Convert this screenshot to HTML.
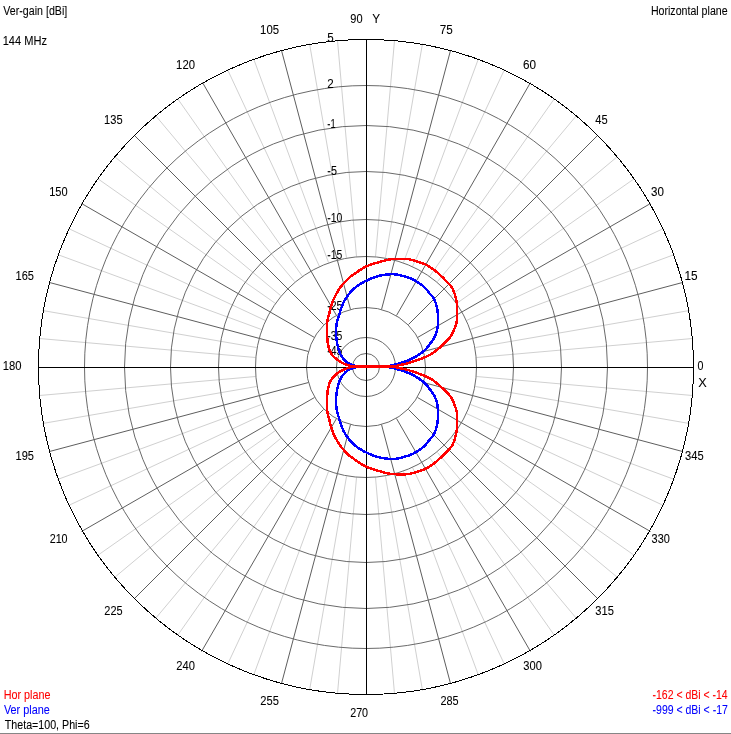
<!DOCTYPE html>
<html><head><meta charset="utf-8"><title>Horizontal plane</title>
<style>
html,body{margin:0;padding:0;background:#fff;overflow:hidden}
svg{display:block}
text{font-family:"Liberation Sans",sans-serif;font-size:12.5px;stroke-width:0.08px}
</style></head><body>
<svg width="731" height="734" viewBox="0 0 731 734">
<rect x="0" y="0" width="731" height="734" fill="#fff"/>
<rect x="0" y="733" width="731" height="1" fill="#868686"/>
<g fill="none" stroke-width="1">
<path stroke="#d0d0d0" d="M476.5 357.5L692.5 338.5M475.5 347.5L689.5 310.5M470.5 329.5L674.5 254.5M466.5 320.5L663.5 228.5M456.5 303.5L634.5 178.5M451.5 295.5L617.5 156.5M437.5 281.5L576.5 115.5M429.5 276.5L554.5 98.5M412.5 266.5L504.5 69.5M403.5 262.5L478.5 58.5M385.5 257.5L422.5 43.5M375.5 256.5L394.5 40.5M356.5 256.5L337.5 40.5M346.5 257.5L309.5 43.5M328.5 262.5L253.5 58.5M319.5 266.5L227.5 69.5M302.5 276.5L177.5 98.5M294.5 281.5L155.5 115.5M280.5 295.5L114.5 156.5M275.5 303.5L97.5 178.5M265.5 320.5L68.5 228.5M261.5 329.5L57.5 254.5M256.5 347.5L42.5 310.5M255.5 357.5L39.5 338.5M255.5 376.5L39.5 395.5M256.5 386.5L42.5 423.5M261.5 404.5L57.5 479.5M265.5 413.5L68.5 505.5M275.5 430.5L97.5 555.5M280.5 438.5L114.5 577.5M294.5 452.5L155.5 618.5M302.5 457.5L177.5 635.5M319.5 467.5L227.5 664.5M328.5 471.5L253.5 675.5M346.5 476.5L309.5 690.5M356.5 477.5L337.5 693.5M375.5 477.5L394.5 693.5M385.5 476.5L422.5 690.5M403.5 471.5L478.5 675.5M412.5 467.5L504.5 664.5M429.5 457.5L554.5 635.5M437.5 452.5L576.5 618.5M451.5 438.5L617.5 577.5M456.5 430.5L634.5 555.5M466.5 413.5L663.5 505.5M470.5 404.5L674.5 479.5M475.5 386.5L689.5 423.5M476.5 376.5L692.5 395.5"/>
<path stroke="#5e5e5e" d="M423.5 351.5L682.5 282.5M417.5 337.5L650.5 203.5M408.5 324.5L597.5 135.5M396.5 315.5L530.5 82.5M381.5 309.5L450.5 50.5M350.5 309.5L281.5 50.5M336.5 315.5L202.5 82.5M323.5 324.5L134.5 135.5M314.5 337.5L81.5 203.5M308.5 351.5L49.5 282.5M308.5 382.5L49.5 451.5M314.5 397.5L81.5 531.5M323.5 409.5L134.5 598.5M336.5 418.5L201.5 651.5M350.5 424.5L281.5 683.5M381.5 424.5L450.5 683.5M396.5 418.5L530.5 651.5M408.5 409.5L597.5 598.5M417.5 397.5L650.5 531.5M423.5 382.5L682.5 451.5"/>
<g stroke="#6a6a6a">
<circle cx="366.0" cy="367.0" r="281.5"/>
<circle cx="366.0" cy="367.0" r="241.5"/>
<circle cx="366.0" cy="367.0" r="195.5"/>
<circle cx="366.0" cy="367.0" r="147.5"/>
<circle cx="366.0" cy="367.0" r="110.5"/>
<circle cx="366.0" cy="367.0" r="59.5"/>
<circle cx="366.0" cy="367.0" r="29.5"/>
<circle cx="366.0" cy="367.0" r="13.5"/>
</g>
<circle cx="366.0" cy="367.0" r="327.5" stroke="#000" shape-rendering="crispEdges"/>
<path stroke="#000" shape-rendering="crispEdges" d="M38 367.5H694M366.5 39V695"/>
</g>
<g>
<text x="327.35" y="42.00" fill="#000" stroke="#000" textLength="6.46" lengthAdjust="spacingAndGlyphs">5</text>
<text x="327.35" y="88.00" fill="#000" stroke="#000" textLength="6.45" lengthAdjust="spacingAndGlyphs">2</text>
<text x="327.35" y="128.00" fill="#000" stroke="#000" textLength="8.30" lengthAdjust="spacingAndGlyphs">-1</text>
<text x="327.35" y="175.00" fill="#000" stroke="#000" textLength="9.59" lengthAdjust="spacingAndGlyphs">-5</text>
<text x="327.35" y="222.00" fill="#000" stroke="#000" textLength="15.09" lengthAdjust="spacingAndGlyphs">-10</text>
<text x="327.35" y="259.00" fill="#000" stroke="#000" textLength="15.09" lengthAdjust="spacingAndGlyphs">-15</text>
<text x="327.35" y="310.00" fill="#000" stroke="#000" textLength="15.09" lengthAdjust="spacingAndGlyphs">-25</text>
<text x="327.35" y="340.00" fill="#000" stroke="#000" textLength="15.09" lengthAdjust="spacingAndGlyphs">-35</text>
<text x="327.35" y="355.00" fill="#000" stroke="#000" textLength="15.09" lengthAdjust="spacingAndGlyphs">-45</text>
</g>
<g fill="none" stroke-width="2.5" stroke-linejoin="round" shape-rendering="crispEdges">
<path stroke="#0000ff" d="M366.0 367.0 L365.5 367.0 L364.9 367.0 L364.1 367.0 L363.2 367.0 L362.4 366.9 L361.6 366.9 L360.9 366.9 L360.2 366.8 L359.5 366.8 L358.7 366.7 L358.0 366.6 L357.2 366.4 L356.3 366.2 L355.4 365.9 L354.4 365.7 L353.5 365.3 L352.6 365.0 L351.7 364.7 L350.9 364.4 L350.2 364.1 L349.5 363.8 L348.8 363.4 L348.1 363.0 L347.4 362.5 L346.7 361.9 L345.9 361.3 L345.1 360.6 L344.4 359.8 L343.7 359.0 L343.0 358.2 L342.4 357.4 L341.8 356.5 L341.2 355.7 L340.7 354.7 L340.2 353.8 L339.7 352.7 L339.3 351.6 L338.9 350.3 L338.5 349.0 L338.1 347.7 L337.8 346.4 L337.5 345.0 L337.2 343.6 L337.0 342.2 L336.7 340.7 L336.5 339.2 L336.3 337.8 L336.2 336.3 L336.1 334.8 L336.1 333.3 L336.0 331.8 L336.1 330.3 L336.1 328.9 L336.2 327.5 L336.3 326.2 L336.5 324.8 L336.7 323.5 L337.0 322.3 L337.2 321.1 L337.5 320.0 L337.8 319.0 L338.0 318.1 L338.3 317.2 L338.6 316.4 L338.9 315.5 L339.2 314.6 L339.5 313.6 L339.9 312.4 L340.2 311.3 L340.6 310.2 L340.9 309.1 L341.3 308.0 L341.7 307.0 L342.0 306.1 L342.4 305.1 L342.7 304.2 L343.1 303.4 L343.5 302.5 L343.9 301.6 L344.4 300.8 L344.8 300.0 L345.3 299.2 L345.8 298.4 L346.3 297.6 L346.9 296.8 L347.5 296.0 L348.1 295.2 L348.7 294.3 L349.4 293.5 L350.1 292.7 L350.8 291.9 L351.6 291.0 L352.4 290.2 L353.3 289.4 L354.1 288.6 L355.0 287.8 L355.9 287.1 L356.8 286.4 L357.7 285.8 L358.6 285.1 L359.5 284.5 L360.5 283.9 L361.4 283.3 L362.3 282.8 L363.3 282.2 L364.2 281.7 L365.3 281.2 L366.5 280.6 L367.9 280.0 L369.4 279.3 L371.0 278.6 L372.7 277.9 L374.3 277.3 L375.8 276.8 L377.2 276.4 L378.5 276.0 L379.8 275.7 L381.0 275.5 L382.2 275.2 L383.5 275.0 L384.8 274.8 L386.1 274.6 L387.4 274.5 L388.7 274.3 L390.0 274.3 L391.1 274.2 L392.1 274.2 L393.0 274.2 L393.9 274.2 L394.7 274.3 L395.6 274.4 L396.6 274.6 L397.7 274.8 L399.0 275.0 L400.3 275.3 L401.6 275.6 L402.9 275.9 L404.2 276.3 L405.5 276.7 L406.8 277.1 L408.1 277.5 L409.3 277.9 L410.6 278.4 L411.9 279.0 L413.2 279.6 L414.5 280.3 L415.8 281.1 L417.1 281.9 L418.4 282.6 L419.5 283.4 L420.6 284.1 L421.5 284.8 L422.4 285.5 L423.3 286.3 L424.2 287.0 L425.0 287.8 L425.8 288.6 L426.5 289.5 L427.3 290.4 L428.0 291.4 L428.7 292.3 L429.4 293.2 L430.2 294.1 L430.9 295.0 L431.7 295.8 L432.5 296.7 L433.2 297.7 L433.8 298.7 L434.4 299.8 L434.9 300.9 L435.3 302.1 L435.8 303.3 L436.1 304.6 L436.5 305.8 L436.8 307.0 L437.1 308.3 L437.3 309.6 L437.6 310.9 L437.7 312.2 L437.9 313.5 L438.0 314.8 L438.1 316.0 L438.2 317.2 L438.2 318.5 L438.2 319.8 L438.2 321.1 L438.1 322.5 L438.0 323.9 L437.8 325.4 L437.6 326.9 L437.4 328.3 L437.1 329.7 L436.8 331.0 L436.4 332.4 L435.9 333.7 L435.4 335.0 L434.9 336.2 L434.3 337.4 L433.7 338.6 L433.0 339.7 L432.2 340.8 L431.5 341.8 L430.7 342.9 L429.9 343.9 L429.1 344.9 L428.4 346.0 L427.6 347.0 L426.8 348.0 L425.9 349.0 L425.0 349.9 L424.0 350.8 L423.0 351.7 L421.9 352.5 L420.7 353.4 L419.6 354.1 L418.5 354.9 L417.4 355.6 L416.3 356.3 L415.2 356.9 L414.1 357.6 L413.0 358.1 L411.9 358.7 L410.8 359.2 L409.7 359.7 L408.6 360.1 L407.5 360.6 L406.4 361.0 L405.3 361.4 L404.2 361.8 L403.1 362.2 L402.1 362.6 L401.0 362.9 L399.9 363.3 L398.8 363.6 L397.7 363.9 L396.6 364.2 L395.5 364.5 L394.4 364.8 L393.3 365.1 L392.2 365.3 L391.1 365.5 L390.1 365.8 L389.1 366.0 L388.1 366.2 L387.0 366.3 L385.7 366.5 L384.3 366.6 L382.7 366.7 L381.1 366.8 L379.4 366.9 L377.7 367.0 L376.0 367.0 L374.2 367.0 L372.3 367.0 L370.4 367.0 L368.6 367.0 L367.1 367.0 L366.0 367.0 M366.0 366.2 L365.5 366.2 L364.9 366.2 L364.1 366.2 L363.2 366.2 L362.4 366.3 L361.6 366.3 L360.9 366.3 L360.2 366.4 L359.5 366.5 L358.7 366.5 L358.0 366.6 L357.2 366.8 L356.3 367.0 L355.4 367.3 L354.4 367.5 L353.5 367.9 L352.6 368.2 L351.7 368.5 L350.9 368.8 L350.2 369.1 L349.5 369.4 L348.8 369.8 L348.1 370.2 L347.4 370.7 L346.7 371.3 L345.9 371.9 L345.1 372.6 L344.4 373.4 L343.7 374.2 L343.0 375.0 L342.4 375.8 L341.8 376.7 L341.2 377.5 L340.7 378.5 L340.2 379.4 L339.7 380.5 L339.3 381.6 L338.9 382.9 L338.5 384.2 L338.1 385.5 L337.8 386.8 L337.5 388.2 L337.2 389.6 L337.0 391.0 L336.7 392.5 L336.5 394.0 L336.3 395.4 L336.2 396.9 L336.1 398.4 L336.1 399.9 L336.0 401.4 L336.1 402.9 L336.1 404.3 L336.2 405.7 L336.3 407.0 L336.5 408.4 L336.7 409.7 L337.0 410.9 L337.2 412.1 L337.5 413.2 L337.8 414.2 L338.0 415.1 L338.3 416.0 L338.6 416.8 L338.9 417.7 L339.2 418.6 L339.5 419.6 L339.9 420.8 L340.2 421.9 L340.6 423.0 L340.9 424.1 L341.3 425.2 L341.7 426.2 L342.0 427.1 L342.4 428.1 L342.7 429.0 L343.1 429.8 L343.5 430.7 L343.9 431.6 L344.4 432.4 L344.8 433.2 L345.3 434.0 L345.8 434.8 L346.3 435.6 L346.9 436.4 L347.5 437.2 L348.1 438.1 L348.7 438.9 L349.4 439.7 L350.1 440.5 L350.8 441.3 L351.6 442.2 L352.4 443.0 L353.3 443.8 L354.1 444.6 L355.0 445.4 L355.9 446.1 L356.8 446.8 L357.7 447.5 L358.6 448.1 L359.5 448.7 L360.5 449.3 L361.4 449.9 L362.3 450.4 L363.3 451.0 L364.2 451.5 L365.3 452.0 L366.5 452.6 L367.9 453.2 L369.4 453.9 L371.0 454.6 L372.7 455.3 L374.3 455.9 L375.8 456.4 L377.2 456.8 L378.5 457.2 L379.8 457.5 L381.0 457.7 L382.2 458.0 L383.5 458.2 L384.8 458.4 L386.1 458.6 L387.4 458.7 L388.7 458.9 L390.0 458.9 L391.1 459.0 L392.1 459.0 L393.0 459.0 L393.9 459.0 L394.7 458.9 L395.6 458.8 L396.6 458.6 L397.7 458.4 L399.0 458.2 L400.3 457.9 L401.6 457.6 L402.9 457.3 L404.2 456.9 L405.5 456.5 L406.8 456.1 L408.1 455.7 L409.3 455.3 L410.6 454.8 L411.9 454.2 L413.2 453.6 L414.5 452.9 L415.8 452.1 L417.1 451.3 L418.4 450.6 L419.5 449.8 L420.6 449.1 L421.5 448.4 L422.4 447.7 L423.3 446.9 L424.2 446.2 L425.0 445.4 L425.8 444.6 L426.5 443.7 L427.3 442.8 L428.0 441.8 L428.7 440.9 L429.4 440.0 L430.2 439.1 L430.9 438.2 L431.7 437.4 L432.5 436.5 L433.2 435.5 L433.8 434.5 L434.4 433.4 L434.9 432.3 L435.3 431.1 L435.8 429.9 L436.1 428.6 L436.5 427.4 L436.8 426.2 L437.1 424.9 L437.3 423.6 L437.6 422.3 L437.7 421.0 L437.9 419.7 L438.0 418.4 L438.1 417.2 L438.2 416.0 L438.2 414.7 L438.2 413.4 L438.2 412.1 L438.1 410.7 L438.0 409.3 L437.8 407.8 L437.6 406.3 L437.4 404.9 L437.1 403.5 L436.8 402.2 L436.4 400.8 L435.9 399.5 L435.4 398.2 L434.9 397.0 L434.3 395.8 L433.7 394.6 L433.0 393.5 L432.2 392.4 L431.5 391.4 L430.7 390.3 L429.9 389.3 L429.1 388.3 L428.4 387.2 L427.6 386.2 L426.8 385.2 L425.9 384.2 L425.0 383.3 L424.0 382.4 L423.0 381.5 L421.9 380.7 L420.7 379.8 L419.6 379.1 L418.5 378.3 L417.4 377.6 L416.3 376.9 L415.2 376.3 L414.1 375.6 L413.0 375.1 L411.9 374.5 L410.8 374.0 L409.7 373.5 L408.6 373.1 L407.5 372.6 L406.4 372.2 L405.3 371.8 L404.2 371.4 L403.1 371.0 L402.1 370.6 L401.0 370.3 L399.9 369.9 L398.8 369.6 L397.7 369.3 L396.6 369.0 L395.5 368.7 L394.4 368.4 L393.3 368.1 L392.2 367.9 L391.1 367.7 L390.1 367.4 L389.1 367.2 L388.1 367.0 L387.0 366.9 L385.7 366.7 L384.3 366.6 L382.7 366.5 L381.1 366.4 L379.4 366.3 L377.7 366.2 L376.0 366.2 L374.2 366.2 L372.3 366.2 L370.4 366.2 L368.6 366.2 L367.1 366.2 L366.0 366.2"/>
<path stroke="#ff0000" d="M366.0 367.0 L365.1 367.0 L363.9 367.0 L362.4 367.0 L360.8 367.0 L359.3 366.9 L358.0 366.9 L356.9 366.9 L355.8 366.8 L354.8 366.8 L353.8 366.7 L352.7 366.6 L351.7 366.4 L350.6 366.1 L349.5 365.8 L348.4 365.4 L347.3 365.0 L346.2 364.6 L345.2 364.2 L344.2 363.8 L343.3 363.4 L342.4 362.9 L341.5 362.5 L340.6 362.0 L339.7 361.4 L338.8 360.8 L337.8 360.1 L336.8 359.4 L335.9 358.6 L335.0 357.9 L334.2 357.1 L333.4 356.3 L332.7 355.6 L332.1 354.8 L331.5 353.9 L330.9 353.1 L330.4 352.1 L329.9 351.1 L329.5 349.9 L329.1 348.8 L328.8 347.6 L328.5 346.3 L328.2 345.0 L327.9 343.6 L327.7 342.2 L327.5 340.8 L327.4 339.3 L327.2 337.8 L327.1 336.3 L327.0 334.8 L326.9 333.4 L326.8 331.9 L326.8 330.4 L326.8 328.9 L326.8 327.5 L326.9 326.1 L327.0 324.6 L327.1 323.2 L327.3 321.8 L327.5 320.5 L327.7 319.3 L327.9 318.2 L328.2 317.2 L328.5 316.3 L328.7 315.4 L329.0 314.5 L329.3 313.5 L329.6 312.4 L329.8 311.4 L330.1 310.2 L330.3 309.1 L330.6 308.0 L330.9 306.9 L331.2 305.8 L331.5 304.7 L331.9 303.6 L332.3 302.5 L332.7 301.4 L333.1 300.3 L333.6 299.2 L334.1 298.1 L334.7 297.0 L335.3 295.9 L335.8 294.8 L336.4 293.8 L336.9 292.8 L337.5 291.9 L338.0 291.0 L338.5 290.1 L339.1 289.2 L339.7 288.3 L340.4 287.4 L341.1 286.4 L341.8 285.5 L342.6 284.6 L343.3 283.7 L344.1 282.8 L344.9 281.9 L345.7 281.1 L346.5 280.3 L347.3 279.5 L348.1 278.7 L349.0 277.9 L349.9 277.1 L350.9 276.4 L352.0 275.6 L353.0 274.9 L354.0 274.2 L355.0 273.5 L355.9 272.8 L356.9 272.2 L357.8 271.5 L358.6 270.9 L359.6 270.3 L360.5 269.7 L361.5 269.1 L362.4 268.5 L363.4 268.0 L364.4 267.4 L365.4 266.9 L366.5 266.4 L367.6 265.9 L368.8 265.4 L369.9 265.0 L371.1 264.5 L372.4 264.1 L373.6 263.7 L374.8 263.3 L376.1 262.9 L377.4 262.6 L378.6 262.2 L380.0 261.9 L381.3 261.5 L382.7 261.1 L384.1 260.7 L385.5 260.3 L387.0 260.0 L388.5 259.7 L390.0 259.4 L391.6 259.2 L393.2 259.1 L394.9 259.0 L396.6 258.9 L398.2 258.9 L399.8 258.9 L401.3 258.9 L402.8 258.9 L404.3 258.9 L405.7 258.9 L407.1 259.0 L408.6 259.2 L410.1 259.5 L411.5 259.8 L413.0 260.2 L414.5 260.6 L415.9 261.0 L417.4 261.5 L418.9 262.0 L420.3 262.5 L421.8 263.0 L423.3 263.5 L424.7 264.1 L426.1 264.8 L427.5 265.5 L428.8 266.3 L430.1 267.1 L431.4 268.0 L432.6 268.8 L433.8 269.7 L435.0 270.6 L436.1 271.5 L437.1 272.3 L438.2 273.3 L439.2 274.2 L440.3 275.2 L441.4 276.2 L442.6 277.3 L443.7 278.4 L444.8 279.6 L445.9 280.7 L446.9 281.7 L447.8 282.7 L448.7 283.6 L449.6 284.4 L450.4 285.3 L451.1 286.2 L451.8 287.2 L452.4 288.2 L452.9 289.3 L453.4 290.4 L453.8 291.5 L454.2 292.6 L454.6 293.8 L455.0 295.0 L455.3 296.3 L455.7 297.5 L456.0 298.8 L456.3 300.1 L456.5 301.4 L456.7 302.7 L456.8 304.0 L456.9 305.2 L457.0 306.5 L457.1 307.8 L457.1 309.1 L457.1 310.4 L457.1 311.8 L457.1 313.1 L457.1 314.4 L457.0 315.7 L457.0 316.8 L457.0 317.8 L457.0 318.7 L456.9 319.5 L456.9 320.2 L456.8 321.1 L456.6 322.0 L456.4 323.0 L456.1 324.1 L455.7 325.2 L455.3 326.3 L454.9 327.5 L454.4 328.7 L453.9 329.9 L453.4 331.2 L452.8 332.5 L452.2 333.8 L451.5 335.1 L450.7 336.3 L449.8 337.5 L448.9 338.6 L447.9 339.6 L446.8 340.7 L445.8 341.8 L444.7 342.8 L443.6 343.9 L442.6 344.9 L441.5 345.9 L440.4 347.0 L439.3 348.0 L438.2 348.9 L437.1 349.8 L436.0 350.7 L435.0 351.5 L433.9 352.3 L432.8 353.1 L431.6 353.8 L430.4 354.5 L429.2 355.2 L427.9 355.8 L426.6 356.4 L425.3 357.0 L423.9 357.6 L422.5 358.2 L421.1 358.8 L419.6 359.3 L418.1 359.9 L416.7 360.4 L415.2 360.9 L413.7 361.4 L412.2 361.9 L410.7 362.3 L409.2 362.8 L407.8 363.2 L406.4 363.6 L405.1 363.9 L403.7 364.3 L402.5 364.5 L401.2 364.8 L400.0 365.1 L398.8 365.3 L397.7 365.6 L396.7 365.8 L395.8 366.0 L394.8 366.2 L393.6 366.4 L392.2 366.6 L390.5 366.7 L388.6 366.8 L386.6 366.9 L384.4 366.9 L382.2 367.0 L380.0 367.0 L377.6 367.0 L374.9 367.0 L372.2 367.0 L369.7 367.0 L367.5 367.0 L366.0 367.0 M366.0 366.2 L365.1 366.2 L363.9 366.2 L362.4 366.2 L360.8 366.2 L359.3 366.3 L358.0 366.3 L356.9 366.3 L355.8 366.4 L354.8 366.4 L353.8 366.5 L352.7 366.6 L351.7 366.8 L350.6 367.1 L349.5 367.4 L348.4 367.8 L347.3 368.2 L346.2 368.6 L345.2 369.0 L344.2 369.4 L343.3 369.8 L342.4 370.3 L341.5 370.7 L340.6 371.2 L339.7 371.8 L338.8 372.4 L337.8 373.1 L336.8 373.8 L335.9 374.6 L335.0 375.3 L334.2 376.1 L333.4 376.9 L332.7 377.6 L332.1 378.4 L331.5 379.3 L330.9 380.1 L330.4 381.1 L329.9 382.1 L329.5 383.3 L329.1 384.4 L328.8 385.6 L328.5 386.9 L328.2 388.2 L327.9 389.6 L327.7 391.0 L327.5 392.4 L327.4 393.9 L327.2 395.4 L327.1 396.9 L327.0 398.4 L326.9 399.8 L326.8 401.3 L326.8 402.8 L326.8 404.3 L326.8 405.7 L326.9 407.1 L327.0 408.6 L327.1 410.0 L327.3 411.4 L327.5 412.7 L327.7 413.9 L327.9 415.0 L328.2 416.0 L328.5 416.9 L328.7 417.8 L329.0 418.7 L329.3 419.7 L329.6 420.8 L329.8 421.8 L330.1 423.0 L330.3 424.1 L330.6 425.2 L330.9 426.3 L331.2 427.4 L331.5 428.5 L331.9 429.6 L332.3 430.7 L332.7 431.8 L333.1 432.9 L333.6 434.0 L334.1 435.1 L334.7 436.2 L335.3 437.3 L335.8 438.4 L336.4 439.4 L336.9 440.4 L337.5 441.3 L338.0 442.2 L338.5 443.1 L339.1 444.0 L339.7 444.9 L340.4 445.8 L341.1 446.8 L341.8 447.7 L342.6 448.6 L343.3 449.5 L344.1 450.4 L344.9 451.3 L345.7 452.1 L346.5 452.9 L347.3 453.7 L348.1 454.5 L349.0 455.3 L349.9 456.1 L350.9 456.8 L352.0 457.6 L353.0 458.3 L354.0 459.0 L355.0 459.7 L355.9 460.4 L356.9 461.0 L357.8 461.7 L358.6 462.3 L359.6 462.9 L360.5 463.5 L361.5 464.1 L362.4 464.7 L363.4 465.2 L364.4 465.8 L365.4 466.3 L366.5 466.8 L367.6 467.3 L368.8 467.8 L369.9 468.2 L371.1 468.7 L372.4 469.1 L373.6 469.5 L374.8 469.9 L376.1 470.3 L377.4 470.6 L378.6 471.0 L380.0 471.3 L381.3 471.7 L382.7 472.1 L384.1 472.5 L385.5 472.9 L387.0 473.2 L388.5 473.5 L390.0 473.8 L391.6 474.0 L393.2 474.1 L394.9 474.2 L396.6 474.3 L398.2 474.3 L399.8 474.3 L401.3 474.3 L402.8 474.3 L404.3 474.3 L405.7 474.3 L407.1 474.2 L408.6 474.0 L410.1 473.7 L411.5 473.4 L413.0 473.0 L414.5 472.6 L415.9 472.2 L417.4 471.7 L418.9 471.2 L420.3 470.7 L421.8 470.2 L423.3 469.7 L424.7 469.1 L426.1 468.4 L427.5 467.7 L428.8 466.9 L430.1 466.1 L431.4 465.2 L432.6 464.4 L433.8 463.5 L435.0 462.6 L436.1 461.7 L437.1 460.9 L438.2 459.9 L439.2 459.0 L440.3 458.0 L441.4 457.0 L442.6 455.9 L443.7 454.8 L444.8 453.6 L445.9 452.5 L446.9 451.5 L447.8 450.5 L448.7 449.6 L449.6 448.8 L450.4 447.9 L451.1 447.0 L451.8 446.0 L452.4 445.0 L452.9 443.9 L453.4 442.8 L453.8 441.7 L454.2 440.6 L454.6 439.4 L455.0 438.2 L455.3 436.9 L455.7 435.7 L456.0 434.4 L456.3 433.1 L456.5 431.8 L456.7 430.5 L456.8 429.2 L456.9 428.0 L457.0 426.7 L457.1 425.4 L457.1 424.1 L457.1 422.8 L457.1 421.4 L457.1 420.1 L457.1 418.8 L457.0 417.5 L457.0 416.4 L457.0 415.4 L457.0 414.5 L456.9 413.7 L456.9 413.0 L456.8 412.1 L456.6 411.2 L456.4 410.2 L456.1 409.1 L455.7 408.0 L455.3 406.9 L454.9 405.7 L454.4 404.5 L453.9 403.3 L453.4 402.0 L452.8 400.7 L452.2 399.4 L451.5 398.1 L450.7 396.9 L449.8 395.7 L448.9 394.6 L447.9 393.6 L446.8 392.5 L445.8 391.4 L444.7 390.4 L443.6 389.3 L442.6 388.3 L441.5 387.3 L440.4 386.2 L439.3 385.2 L438.2 384.3 L437.1 383.4 L436.0 382.5 L435.0 381.7 L433.9 380.9 L432.8 380.1 L431.6 379.4 L430.4 378.7 L429.2 378.0 L427.9 377.4 L426.6 376.8 L425.3 376.2 L423.9 375.6 L422.5 375.0 L421.1 374.4 L419.6 373.9 L418.1 373.3 L416.7 372.8 L415.2 372.3 L413.7 371.8 L412.2 371.3 L410.7 370.9 L409.2 370.4 L407.8 370.0 L406.4 369.6 L405.1 369.3 L403.7 368.9 L402.5 368.7 L401.2 368.4 L400.0 368.1 L398.8 367.9 L397.7 367.6 L396.7 367.4 L395.8 367.2 L394.8 367.0 L393.6 366.8 L392.2 366.6 L390.5 366.5 L388.6 366.4 L386.6 366.3 L384.4 366.3 L382.2 366.2 L380.0 366.2 L377.6 366.2 L374.9 366.2 L372.2 366.2 L369.7 366.2 L367.5 366.2 L366.0 366.2"/>
</g>
<g>
<text x="3.35" y="15.00" fill="#000" stroke="#000" textLength="63.90" lengthAdjust="spacingAndGlyphs">Ver-gain [dBi]</text>
<text x="2.70" y="45.00" fill="#000" stroke="#000" textLength="44.32" lengthAdjust="spacingAndGlyphs">144 MHz</text>
<text x="650.90" y="15.00" fill="#000" stroke="#000" textLength="76.71" lengthAdjust="spacingAndGlyphs">Horizontal plane</text>
<text x="3.70" y="699.00" fill="#ff0000" stroke="#ff0000" textLength="46.81" lengthAdjust="spacingAndGlyphs">Hor plane</text>
<text x="3.95" y="714.00" fill="#0000ff" stroke="#0000ff" textLength="45.90" lengthAdjust="spacingAndGlyphs">Ver plane</text>
<text x="4.80" y="729.00" fill="#000" stroke="#000" textLength="84.85" lengthAdjust="spacingAndGlyphs">Theta=100, Phi=6</text>
<text x="652.55" y="699.00" fill="#ff0000" stroke="#ff0000" textLength="75.05" lengthAdjust="spacingAndGlyphs">-162 &lt; dBi &lt; -14</text>
<text x="652.55" y="714.00" fill="#0000ff" stroke="#0000ff" textLength="75.30" lengthAdjust="spacingAndGlyphs">-999 &lt; dBi &lt; -17</text>
<text x="350.35" y="23.00" fill="#000" stroke="#000" textLength="12.23" lengthAdjust="spacingAndGlyphs">90</text>
<text x="372.25" y="23.00" fill="#000" stroke="#000" textLength="7.87" lengthAdjust="spacingAndGlyphs">Y</text>
<text x="439.65" y="34.00" fill="#000" stroke="#000" textLength="13.02" lengthAdjust="spacingAndGlyphs">75</text>
<text x="522.95" y="69.00" fill="#000" stroke="#000" textLength="13.02" lengthAdjust="spacingAndGlyphs">60</text>
<text x="595.25" y="124.00" fill="#000" stroke="#000" textLength="12.39" lengthAdjust="spacingAndGlyphs">45</text>
<text x="651.05" y="196.00" fill="#000" stroke="#000" textLength="12.89" lengthAdjust="spacingAndGlyphs">30</text>
<text x="684.55" y="280.00" fill="#000" stroke="#000" textLength="13.15" lengthAdjust="spacingAndGlyphs">15</text>
<text x="697.55" y="370.00" fill="#000" stroke="#000" textLength="5.94" lengthAdjust="spacingAndGlyphs">0</text>
<text x="698.25" y="387.00" fill="#000" stroke="#000" textLength="8.51" lengthAdjust="spacingAndGlyphs">X</text>
<text x="685.05" y="460.00" fill="#000" stroke="#000" textLength="18.59" lengthAdjust="spacingAndGlyphs">345</text>
<text x="651.55" y="543.00" fill="#000" stroke="#000" textLength="18.24" lengthAdjust="spacingAndGlyphs">330</text>
<text x="595.35" y="615.00" fill="#000" stroke="#000" textLength="18.58" lengthAdjust="spacingAndGlyphs">315</text>
<text x="523.35" y="670.00" fill="#000" stroke="#000" textLength="18.58" lengthAdjust="spacingAndGlyphs">300</text>
<text x="440.50" y="705.00" fill="#000" stroke="#000" textLength="18.16" lengthAdjust="spacingAndGlyphs">285</text>
<text x="350.20" y="717.00" fill="#000" stroke="#000" textLength="17.90" lengthAdjust="spacingAndGlyphs">270</text>
<text x="260.35" y="705.00" fill="#000" stroke="#000" textLength="18.58" lengthAdjust="spacingAndGlyphs">255</text>
<text x="176.35" y="670.00" fill="#000" stroke="#000" textLength="18.59" lengthAdjust="spacingAndGlyphs">240</text>
<text x="104.35" y="615.00" fill="#000" stroke="#000" textLength="18.28" lengthAdjust="spacingAndGlyphs">225</text>
<text x="49.70" y="543.00" fill="#000" stroke="#000" textLength="17.90" lengthAdjust="spacingAndGlyphs">210</text>
<text x="15.55" y="460.00" fill="#000" stroke="#000" textLength="18.43" lengthAdjust="spacingAndGlyphs">195</text>
<text x="2.70" y="370.00" fill="#000" stroke="#000" textLength="18.78" lengthAdjust="spacingAndGlyphs">180</text>
<text x="15.55" y="280.00" fill="#000" stroke="#000" textLength="18.43" lengthAdjust="spacingAndGlyphs">165</text>
<text x="49.20" y="196.00" fill="#000" stroke="#000" textLength="18.42" lengthAdjust="spacingAndGlyphs">150</text>
<text x="104.10" y="124.00" fill="#000" stroke="#000" textLength="18.51" lengthAdjust="spacingAndGlyphs">135</text>
<text x="176.10" y="69.00" fill="#000" stroke="#000" textLength="18.85" lengthAdjust="spacingAndGlyphs">120</text>
<text x="260.10" y="34.00" fill="#000" stroke="#000" textLength="18.93" lengthAdjust="spacingAndGlyphs">105</text>
</g>
</svg>
</body></html>
